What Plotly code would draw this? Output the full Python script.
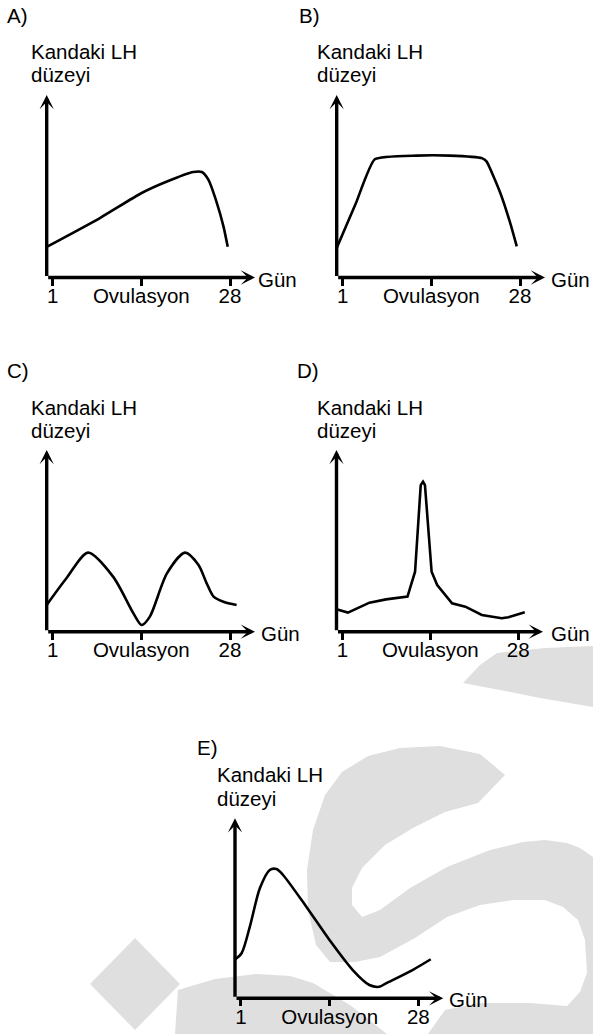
import plotly.graph_objects as go

W, H = 593, 1034

# ---- data (day of cycle, relative LH level) ----
days_a = [0.1, 8.2, 14.55, 18.4, 22.4, 23.7, 24.7, 26.0, 27.0, 27.65]
lh_a = [1.68, 3.26, 4.63, 5.26, 5.78, 5.78, 5.36, 4.08, 2.8, 1.68]

days_b = [0.1, 3.0, 5.9, 12.3, 17.3, 22.2, 22.9, 25.0, 26.5, 27.5]
lh_b = [1.62, 4.05, 6.48, 6.68, 6.68, 6.54, 6.36, 4.63, 2.99, 1.71]

days_c = [0.1, 3.1, 6.4, 10.2, 13.3, 14.55, 15.8, 18.4, 21.15, 23.2, 24.45, 25.5, 27.0, 29.0]
lh_c = [1.47, 2.94, 4.35, 3.03, 1.01, 0.37, 0.83, 3.21, 4.35, 3.67, 2.66, 1.93, 1.65, 1.47]

days_d = [0.1, 1.85, 5.16, 7.7, 11.0, 12.16, 13.03, 13.38, 13.68, 14.7, 15.56, 17.84,
          19.88, 22.41, 25.46, 26.48, 29.0]
lh_d = [1.23, 1.05, 1.6, 1.78, 1.93, 3.3, 8.07, 8.26, 8.07, 3.3, 2.57, 1.56,
        1.38, 0.92, 0.74, 0.79, 1.07]

days_e = [0.15, 1.1, 2.36, 3.88, 5.39, 6.41, 7.41, 10.95, 14.48, 18.02, 20.55, 22.06,
          23.08, 27.11, 29.89]
lh_e = [2.17, 2.5, 3.98, 6.11, 7.13, 7.18, 6.85, 5.09, 3.24, 1.57, 0.74, 0.64,
        0.83, 1.57, 2.17]

tick_days = [1, 14.5, 28]
tick_text = ["1", "Ovulasyon", "28"]
panel_labels = ["A)", "B)", "C)", "D)", "E)"]
y_title = ["Kandaki LH", "düzeyi"]
x_title = "Gün"

X_MIN, X_MAX = 0.1, 31.8
Y_MAX = 10

FONT = "Liberation Sans, Arial, sans-serif"
FS = 20.5

# layout of panels in pixels: (axis x, arrow tip x, arrow tip y, axis y)
panels = [
    dict(days=days_a, lh=lh_a, shape="spline", sm=0.6, box=(46.7, 255, 95, 277.5),
         lab=(8.3, 22.7), tit=(31.7, 58.8, 82.0), gun=(259, 287)),
    dict(days=days_b, lh=lh_b, shape="spline", sm=0.45, box=(336.7, 545, 95, 277.5),
         lab=(300, 22.7), tit=(318.3, 58.8, 82.0), gun=(552, 287)),
    dict(days=days_c, lh=lh_c, shape="spline", sm=0.8, box=(46.7, 255, 450, 631.7),
         lab=(8.3, 378), tit=(31.7, 414.8, 438.0), gun=(262, 640.5)),
    dict(days=days_d, lh=lh_d, shape="linear", sm=0, box=(336.5, 543, 450, 631.7),
         lab=(298, 378), tit=(318.3, 414.8, 438.0), gun=(552, 640.5)),
    dict(days=days_e, lh=lh_e, shape="spline", sm=0.8, box=(235, 443.3, 818.3, 998.3),
         lab=(198.3, 755), tit=(218.3, 782.0, 805.2), gun=(450, 1007)),
]

# background watermark outlines (pixel coordinates of the page)
wm_polys = [
    [(463, 683), (480, 665), (497, 653), (545, 648), (593, 646), (593, 707), (540, 698),
     (500, 690)],
    [(505, 775), (480, 754), (440, 746), (400, 748), (368, 756), (342, 772), (325, 795),
     (313, 830), (307, 870), (308, 910), (316, 945), (330, 962), (355, 962), (380, 957),
     (415, 938), (447, 917), (480, 905), (513, 900), (545, 900), (563, 907), (578, 920),
     (585, 940), (587, 973), (580, 992), (567, 1006), (530, 1003), (480, 1003),
     (445, 1010), (428, 1034),
     (593, 1034), (593, 857), (580, 848), (567, 843), (545, 840), (523, 842), (490, 850),
     (447, 867), (410, 888), (380, 910), (362, 917), (352, 905), (352, 888), (362, 868),
     (385, 845), (413, 828), (445, 812), (478, 803)],
    [(175, 1034), (178, 990), (215, 979), (257, 974), (290, 976), (313, 983), (350, 1005),
     (387, 1034)],
    [(135, 938), (180, 984), (135, 1030), (90, 984)],
]

fig = go.Figure()
annotations = []


def px_x(p):
    return p / W


def px_y(p):
    return 1 - p / H


def text_ann(s, left, baseline, size=FS):
    # place text so its left edge and baseline land on the given pixels
    top = baseline - 0.905 * size
    return dict(text=s, x=px_x(left - 1), y=px_y(top), xref="paper", yref="paper",
                xanchor="left", yanchor="top", showarrow=False, borderpad=0,
                borderwidth=0, font=dict(family=FONT, size=size, color="black"))


shapes = []
for poly in wm_polys:
    path = "M " + " L ".join(f"{px_x(x):.5f},{px_y(y):.5f}" for x, y in poly) + " Z"
    shapes.append(dict(type="path", path=path, xref="paper", yref="paper",
                       fillcolor="#dfdfdf", line=dict(width=0), layer="below"))

for i, p in enumerate(panels):
    n = "" if i == 0 else str(i + 1)
    xa, ya = "x" + n, "y" + n
    x0, x1, y1, y0 = p["box"]
    fig.add_trace(go.Scatter(
        x=p["days"], y=p["lh"], mode="lines", xaxis=xa, yaxis=ya,
        line=dict(color="black", width=2.6, shape=p["shape"],
                  **({"smoothing": p["sm"]} if p["shape"] == "spline" else {})),
        hoverinfo="skip", showlegend=False))
    fig.update_layout(**{
        "xaxis" + n: dict(domain=[px_x(x0), px_x(x1)], range=[X_MIN, X_MAX], anchor=ya,
                          showgrid=False, zeroline=False, showline=False,
                          ticks="outside", ticklen=7, tickwidth=3, tickcolor="black",
                          tickvals=tick_days, ticktext=tick_text,
                          ticklabelstandoff=-7,
                          tickfont=dict(family=FONT, size=FS, color="black"),
                          fixedrange=True),
        "yaxis" + n: dict(domain=[px_y(y0), px_y(y1)], range=[0, Y_MAX], anchor=xa,
                          showgrid=False, zeroline=False, showline=False,
                          showticklabels=False, ticks="", fixedrange=True),
    })
    # axis arrows
    annotations.append(dict(x=X_MAX, y=0, ax=X_MIN, ay=0, xref=xa, yref=ya,
                            axref=xa, ayref=ya, text="", showarrow=True,
                            arrowhead=3, arrowsize=0.7, arrowwidth=3.4, arrowcolor="black",
                            standoff=0, startstandoff=0))
    annotations.append(dict(x=X_MIN, y=Y_MAX, ax=X_MIN, ay=0, xref=xa, yref=ya,
                            axref=xa, ayref=ya, text="", showarrow=True,
                            arrowhead=3, arrowsize=0.7, arrowwidth=3.4, arrowcolor="black",
                            standoff=0, startstandoff=0))
    lx, lb = p["lab"]
    annotations.append(text_ann(panel_labels[i], lx, lb))
    tx, tb1, tb2 = p["tit"]
    annotations.append(text_ann(y_title[0], tx, tb1))
    annotations.append(text_ann(y_title[1], tx, tb2))
    gx, gb = p["gun"]
    annotations.append(text_ann(x_title, gx, gb))

fig.update_layout(width=W, height=H, margin=dict(l=0, r=0, t=0, b=0),
                  paper_bgcolor="white", plot_bgcolor="rgba(0,0,0,0)",
                  annotations=annotations, shapes=shapes, showlegend=False)

fig.write_html("out.html", config={"displayModeBar": False},
               post_script="document.body.style.margin='0';document.body.style.padding='0';")
